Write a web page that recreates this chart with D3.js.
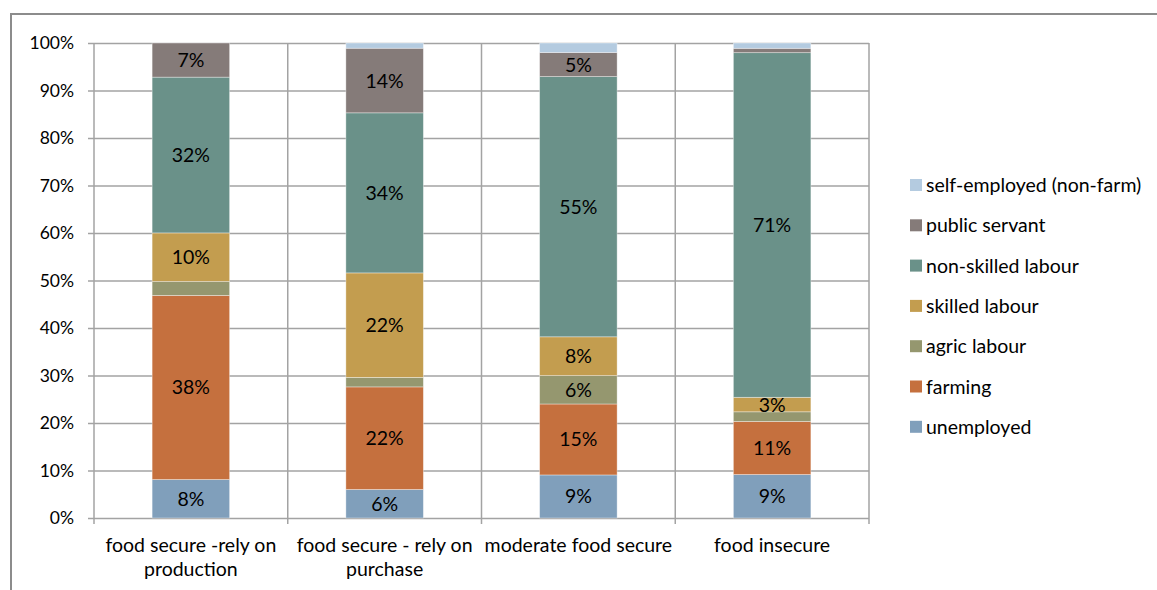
<!DOCTYPE html>
<html>
<head>
<meta charset="utf-8">
<script src="https://cdn.jsdelivr.net/npm/d3@7"></script>
<style>
  html, body { margin: 0; padding: 0; background: #fff; }
  svg { display: block; }
  text { font-family: Lato, "Open Sans", sans-serif; fill: #000; }
</style>
</head>
<body>
<svg id="chart" width="1157" height="590"></svg>
<script>
// ---- data ----
const categories = [
  ["food secure -rely on", "production"],
  ["food secure - rely on", "purchase"],
  ["moderate food secure"],
  ["food insecure"]
];
const seriesNames = ["unemployed", "farming", "agric labour", "skilled labour",
                     "non-skilled labour", "public servant", "self-employed (non-farm)"];
const unemployed   = [8.0, 6.0, 9.1, 9.0];
const farming      = [38.3, 21.6, 15.0, 11.0];
const agricLabour  = [2.9, 2.0, 6.0, 2.0];
const skilledLabour= [10.1, 22.0, 8.2, 3.0];
const nonSkilled   = [32.4, 33.7, 55.0, 71.4];
const publicServant= [7.1, 13.6, 5.1, 0.9];
const selfEmployed = [0.0, 1.1, 2.0, 1.1];
const yTicks = [0, 0.1, 0.2, 0.3, 0.4, 0.5, 0.6, 0.7, 0.8, 0.9, 1.0];
const colors = ["#809fbb", "#c5703e", "#95976f", "#c39d4f", "#6a9189", "#857b79", "#b4cbe0"];

const seriesValues = [unemployed, farming, agricLabour, skilledLabour, nonSkilled, publicServant, selfEmployed];
const table = categories.map((c, i) => {
  const row = { idx: i };
  seriesNames.forEach((s, j) => row[s] = seriesValues[j][i]);
  return row;
});

// ---- layout ----
const svg = d3.select("#chart");
const m = { left: 94, right: 869, top: 43, bottom: 518 };
const FONT = "Lato, 'Open Sans', sans-serif";
const FS = 19.5;

const x = d3.scaleBand().domain(d3.range(categories.length)).range([m.left, m.right]).paddingInner(0.6).paddingOuter(0.3);
const xb = d3.scaleBand().domain(d3.range(categories.length)).range([m.left, m.right]);
const y = d3.scaleLinear().domain([0, 1]).range([m.bottom, m.top]);

// outer border
svg.append("path").attr("d", `M11,590 L11,14 L1157,14`).attr("fill", "none").attr("stroke", "#8c8c8c").attr("stroke-width", 2);

const gridColor = "#a3a3a3";
// horizontal gridlines + y ticks
const yAxis = d3.axisLeft(y).tickValues(yTicks).tickFormat(d3.format(".0%")).tickSize(-(m.right - m.left)).tickSizeOuter(0).tickPadding(20);
const gy = svg.append("g").attr("transform", `translate(${m.left},0)`).call(yAxis);
gy.select(".domain").remove();
gy.selectAll(".tick line").attr("stroke", gridColor).attr("stroke-width", 1.5).attr("x1", -6);
gy.selectAll(".tick text").attr("font-size", 17.5).attr("font-family", FONT).attr("fill", "#000");

// vertical gridlines at category boundaries
const bounds = categories.map((c, i) => xb(i) + xb.bandwidth());
svg.append("g").selectAll("line").data(bounds).join("line")
  .attr("x1", d => d).attr("x2", d => d).attr("y1", m.top).attr("y2", m.bottom + 6)
  .attr("stroke", gridColor).attr("stroke-width", 1.5);
// y axis line
svg.append("line").attr("x1", m.left).attr("x2", m.left).attr("y1", m.top).attr("y2", m.bottom + 6)
  .attr("stroke", gridColor).attr("stroke-width", 1.5);

// stacks
const stack = d3.stack().keys(seriesNames).offset(d3.stackOffsetExpand);
const layers = stack(table);

const g = svg.append("g");
layers.forEach((layer, j) => {
  g.append("g").selectAll("rect").data(layer).join("rect")
    .attr("x", d => x(d.data.idx))
    .attr("width", x.bandwidth())
    .attr("y", d => y(d[1]))
    .attr("height", d => Math.max(0, y(d[0]) - y(d[1])))
    .attr("fill", colors[j])
    .attr("stroke", "#ffffff").attr("stroke-opacity", 0.45).attr("stroke-width", 0.8);
});
// labels
layers.forEach((layer, j) => {
  g.append("g").selectAll("text").data(layer.filter(d => d.data[seriesNames[j]] >= 2.95)).join("text")
    .attr("x", d => x(d.data.idx) + x.bandwidth() / 2)
    .attr("y", d => (y(d[0]) + y(d[1])) / 2)
    .attr("dy", "0.36em")
    .attr("text-anchor", "middle")
    .attr("font-size", FS)
    .text(d => Math.round(d.data[seriesNames[j]]) + "%");
});

// x axis labels
const xl = svg.append("g");
categories.forEach((lines, i) => {
  const t = xl.append("text").attr("x", xb(i) + xb.bandwidth() / 2).attr("y", 552)
    .attr("text-anchor", "middle").attr("font-size", FS);
  lines.forEach((ln, k) => t.append("tspan").attr("x", xb(i) + xb.bandwidth() / 2).attr("dy", k === 0 ? 0 : 24).text(ln));
});

// legend
const legendOrder = seriesNames.map((s, j) => ({ s, c: colors[j] })).reverse();
const lg = svg.append("g");
legendOrder.forEach((d, k) => {
  const cy = 185 + k * 40.3;
  lg.append("rect").attr("x", 910).attr("y", cy - 6).attr("width", 12).attr("height", 12).attr("fill", d.c);
  lg.append("text").attr("x", 926).attr("y", cy).attr("dy", "0.36em").attr("font-size", FS).text(d.s);
});
</script>
</body>
</html>
